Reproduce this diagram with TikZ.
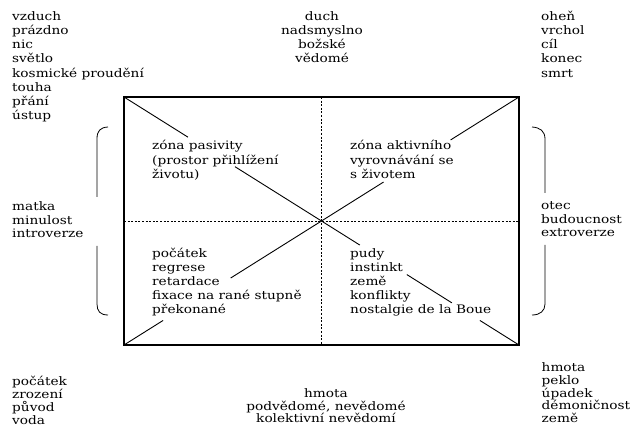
\documentclass[tikz,border=0pt]{standalone}
\usepackage{fontspec}
\setmainfont[FakeStretch=1.17]{DejaVu Serif}
\usetikzlibrary{calc}
\begin{document}
\begin{tikzpicture}[x=1pt,y=-1pt,
  lbl/.style={font=\fontsize{11.7}{14.1}\selectfont, inner sep=0pt, align=left, anchor=base west},
  clbl/.style={font=\fontsize{11.7}{14.1}\selectfont, inner sep=0pt, align=center, anchor=base},
  frame/.style={line width=1.1pt},
  diag/.style={line width=0.9pt},
  dashline/.style={line width=0.8pt, dash pattern=on 2pt off 1.6pt},
  brk/.style={line width=0.8pt}]
\useasboundingbox (0,0) rectangle (632,427);
\coordinate (tl) at (124,97);
\coordinate (tr) at (519,97);
\coordinate (bl) at (124,345);
\coordinate (br) at (519,345);
\coordinate (tm) at (321.5,97);
\coordinate (bm) at (321.5,345);
\coordinate (lm) at (124,221);
\coordinate (rm) at (519,221);
% frame and dashed axes
\draw[dashline] (tm) -- (bm);
\draw[dashline] (lm) -- (rm);
\draw[frame] (tl) rectangle (br);
% diagonal TL -> BR
\draw[diag] (tl) -- ($(tl)!0.162!(br)$);
\draw[diag] ($(tl)!0.281!(br)$) -- ($(tl)!0.597!(br)$);
\draw[diag] ($(tl)!0.716!(br)$) -- ($(tl)!0.830!(br)$);
\draw[diag] ($(tl)!0.901!(br)$) -- (br);
% diagonal TR -> BL
\draw[diag] (tr) -- ($(tr)!0.173!(bl)$);
\draw[diag] ($(tr)!0.343!(bl)$) -- ($(tr)!0.730!(bl)$);
\draw[diag] ($(tr)!0.901!(bl)$) -- (bl);
% brackets
\draw[brk] (108,127) .. controls (100,127.5) and (97,131) .. (97,139) -- (97,197);
\draw[brk] (97,246) -- (97,304) .. controls (97,311) and (100,315) .. (108,315);
\draw[brk] (532,127) .. controls (540,127.5) and (545,131) .. (545,139) -- (545,193);
\draw[brk] (545,245) -- (545,304) .. controls (545,311) and (540,315) .. (532,315);
% outer texts (anchor = baseline of the last line)
\node[lbl] (topL) at (12,119.4) {vzduch\\prázdno\\nic\\světlo\\kosmické proudění\\touha\\přání\\ústup};
\node[clbl] (topC) at (322,63.0) {duch\\nadsmyslno\\božské\\vědomé};
\node[lbl] (topR) at (541,77.1) {oheň\\vrchol\\cíl\\konec\\smrt};
\node[lbl, font=\fontsize{11.7}{13.7}\selectfont] (midL) at (12,237.9) {matka\\minulost\\introverze};
\node[lbl, font=\fontsize{11.7}{13.7}\selectfont] (midR) at (541,236.9) {otec\\budoucnost\\extroverze};
% inner texts
\node[lbl] (inTL) at (152,178.2) {zóna pasivity\\(prostor přihlížení\\životu)};
\node[lbl] (inTR) at (350,178.2) {zóna aktivního\\vyrovnávání se\\s životem};
\node[lbl, font=\fontsize{11.7}{14}\selectfont] (inBL) at (152,314) {počátek\\regrese\\retardace\\fixace na rané stupně\\překonané};
\node[lbl, font=\fontsize{11.7}{14}\selectfont] (inBR) at (350,314) {pudy\\instinkt\\země\\konflikty\\nostalgie de la Boue};
% bottom texts
\node[lbl, font=\fontsize{11.7}{13.0}\selectfont] (botL) at (12,424.3) {počátek\\zrození\\původ\\voda};
\node[clbl, font=\fontsize{11.7}{12.8}\selectfont] (botC) at (326,422.8) {hmota\\podvědomé, nevědomé\\kolektivní nevědomí};
\node[lbl, font=\fontsize{11.7}{12.75}\selectfont] (botR) at (541.5,422.5) {hmota\\peklo\\úpadek\\démoničnost\\země};
\end{tikzpicture}
\end{document}
